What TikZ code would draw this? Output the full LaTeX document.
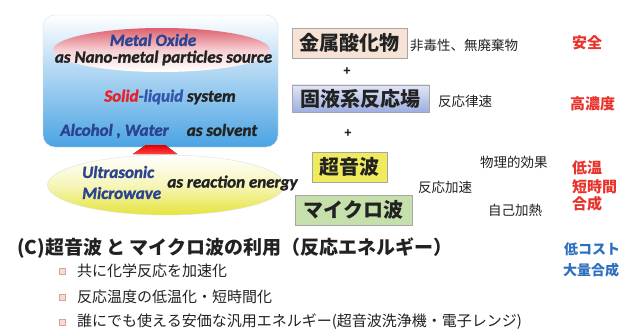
\documentclass[tikz,border=0pt]{standalone}
\usepackage{fontspec}
\usetikzlibrary{shapes.geometric}
\newfontfamily\jp{Noto Sans CJK JP}
\newfontfamily\carl{Carlito}[FakeBold=1.6]
\definecolor{blueT}{HTML}{2B4391}
\definecolor{redT}{HTML}{E8202A}
\definecolor{liqT}{HTML}{3355AA}
\definecolor{blackT}{HTML}{222222}
\definecolor{redJ}{HTML}{E8322A}
\definecolor{blueJ}{HTML}{2F6FC0}
\definecolor{skyB}{HTML}{4AA3E3}
\definecolor{skyM}{HTML}{CFE6F8}
\definecolor{ovalR}{HTML}{DE5F6D}
\definecolor{ovalY}{HTML}{E6E43C}
\definecolor{peach}{HTML}{F6E3D6}
\definecolor{lavT}{HTML}{E2E5F6}
\definecolor{lavB}{HTML}{9DAEE0}
\definecolor{yelB}{HTML}{EFEB5C}
\definecolor{grnB}{HTML}{C6E0AC}
\definecolor{bulC}{HTML}{EDB8A8}
\tikzset{
  entxt/.style={inner sep=0pt, text=blackT, font=\carl\bfseries\itshape\fontsize{17}{19}\selectfont},
  jpbox/.style={draw=gray!70, line width=0.8pt, inner sep=0pt, text=blackT, font=\jp\bfseries\fontsize{20}{22}\selectfont},
  jpsmall/.style={inner sep=0pt, anchor=west, text=blackT, font=\jp\fontsize{13.5}{15}\selectfont},
  jpred/.style={inner sep=0pt, anchor=west, text=redJ, font=\jp\bfseries\fontsize{15}{17}\selectfont},
  jpblue/.style={inner sep=0pt, text=blueJ, font=\jp\bfseries\fontsize{14}{16}\selectfont},
  jpbul/.style={inner sep=0pt, anchor=west, text=blackT, font=\jp\fontsize{15}{17}\selectfont},
  bulsq/.style={draw=bulC!90!black, fill=bulC!50, line width=0.5pt, minimum size=6pt, inner sep=0pt},
  plussign/.style={inner sep=0pt, text=blackT, font=\jp\bfseries\fontsize{12}{14}\selectfont}
}
\begin{document}
\begin{tikzpicture}[x=1pt,y=-1pt]
\useasboundingbox (0,0) rectangle (623,334);
\fill[white] (0,0) rectangle (623,334);

% left system box
\node[draw=gray!25, rounded corners=12pt, top color=white, middle color=skyM, bottom color=skyB,
      minimum width=235pt, minimum height=132pt, inner sep=0pt] (sys) at (160.5,81) {};
\node[ellipse, top color=ovalR, bottom color=white, middle color=ovalR!30!white,
      minimum width=217pt, minimum height=44pt, inner sep=0pt] (oxide) at (161.5,50) {};
\node[entxt, text=blueT] (mo) at (153,40) {Metal Oxide};
\node[entxt] (nano) at (163.5,58) {as Nano-metal particles source};
\node[entxt] (sl) at (170,97) {\textcolor{redT}{Solid}\textcolor{liqT}{-liquid} system};
\node[entxt, text=blueT] (alc) at (114.5,131) {Alcohol , Water};
\node[entxt] (solv) at (222,130) {as solvent};

% energy ellipse
\node[ellipse, draw=gray!25, top color=white, bottom color=ovalY, middle color=ovalY!35!white,
      minimum width=237pt, minimum height=60pt, inner sep=0pt] (energy) at (166,185) {};
\fill[top color=red!90!black, bottom color=red!75, draw=none]
  (133,154) -- (177,154) -- (165,145) -- (146,145) -- cycle;
\node[entxt, text=blueT, anchor=west] (us) at (82,172) {Ultrasonic};
\node[entxt, text=blueT, anchor=west] (mw) at (82,193) {Microwave};
\node[entxt] (re) at (232.5,183) {as reaction energy};

% right boxes
\node[jpbox, fill=peach, minimum width=115pt, minimum height=30pt] (b1) at (349.5,43) {金属酸化物};
\node[plussign] (p1) at (347,72) {+};
\node[jpbox, top color=lavT, bottom color=lavB, minimum width=137pt, minimum height=27pt] (b2) at (360.5,98.5) {固液系反応場};
\node[plussign] (p2) at (348,134) {+};
\node[jpbox, fill=yelB, minimum width=75pt, minimum height=30pt] (b3) at (349.5,167) {超音波};
\node[jpbox, fill=grnB, minimum width=117pt, minimum height=30pt] (b4) at (353.5,210) {マイクロ波};

\node[jpsmall] (t1) at (410,45) {非毒性、無廃棄物};
\node[jpred] (r1) at (572,43) {安全};
\node[jpsmall] (t2) at (438,101) {反応律速};
\node[jpred] (r2) at (570,104) {高濃度};
\node[jpsmall] (t3) at (480,162) {物理的効果};
\node[jpsmall] (t4) at (418,187) {反応加速};
\node[jpsmall] (t5) at (488,210) {自己加熱};
\node[jpred] (r3) at (572,168) {低温};
\node[jpred] (r4) at (572,187) {短時間};
\node[jpred] (r5) at (572,204) {合成};

% bottom
\node[inner sep=0pt, anchor=west, text=blackT, font=\jp\bfseries\fontsize{19}{21}\selectfont] (title) at (17,248)
  {(C)超音波 と マイクロ波の利用（反応エネルギー）};
\node[jpblue] (lc) at (592,249) {低コスト};
\node[jpblue] (mass) at (591,270) {大量合成};
\node[bulsq] (s1) at (62,271) {};
\node[bulsq] (s2) at (62,297) {};
\node[bulsq] (s3) at (62,322) {};
\node[jpbul] (l1) at (77,271) {共に化学反応を加速化};
\node[jpbul] (l2) at (77,297) {反応温度の低温化・短時間化};
\node[jpbul] (l3) at (77,322) {誰にでも使える安価な汎用エネルギー(超音波洗浄機・電子レンジ)};
\end{tikzpicture}
\end{document}
